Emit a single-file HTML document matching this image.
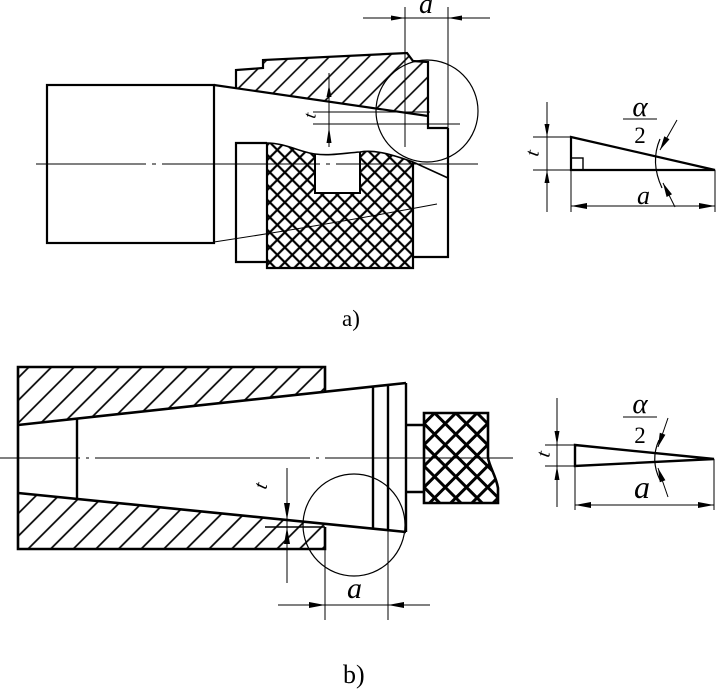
<!DOCTYPE html>
<html><head><meta charset="utf-8"><style>
html,body{margin:0;padding:0;background:#fff;}
svg{display:block;}
text{font-family:"Liberation Serif",serif;fill:#000;}
.i{font-style:italic;}
</style></head><body>
<svg width="717" height="689" viewBox="0 0 717 689" xmlns="http://www.w3.org/2000/svg">
<defs>
<pattern id="hA" patternUnits="userSpaceOnUse" width="14" height="14" patternTransform="rotate(45)">
<line x1="7" y1="0" x2="7" y2="14" stroke="#000" stroke-width="1.6"/>
</pattern>
<pattern id="hB" patternUnits="userSpaceOnUse" width="16" height="16" patternTransform="rotate(45)">
<line x1="8" y1="0" x2="8" y2="16" stroke="#000" stroke-width="1.7"/>
</pattern>
<pattern id="kA" patternUnits="userSpaceOnUse" width="10.6" height="10.6" patternTransform="rotate(45)">
<path d="M5.3,0 V10.6 M0,5.3 H10.6" stroke="#000" stroke-width="2.2" fill="none"/>
</pattern>
<pattern id="kB" patternUnits="userSpaceOnUse" width="15" height="15" patternTransform="translate(424,413) rotate(45)">
<path d="M7.5,0 V15 M0,7.5 H15" stroke="#000" stroke-width="3" fill="none"/>
</pattern>
</defs>

<!-- ================= a) ================= -->
<g fill="none" stroke="#000">
<path d="M236,88 L236,70 L263,68 L263,60 L407,53 L413,61 L428,62 L428,116 Z" fill="url(#hA)" stroke="none"/>
<path d="M236,88 L236,70 L263,68 L263,60 L407,53 L413,61 L428,62 L428,128 L448,128" stroke-width="2.2"/>
<path d="M214,85 L428,116" stroke-width="2.2"/>
<rect x="47" y="85" width="167" height="158" stroke-width="2.2"/>
<path d="M267,143 C285,143 300,152 315,154 L315,193 L360,193 L360,152 C372,150 385,152 413,162 L413,268 L267,268 Z" fill="url(#kA)" stroke="none"/>
<path d="M267,143 C285,143 300,152 315,154 C330,156 345,153 360,152 C372,150 385,152 413,162 L448,178" stroke-width="1.6"/>
<path d="M315,154 L315,193 L360,193 L360,152" stroke-width="2"/>
<path d="M267,143 L236,143 L236,262 L267,262" stroke-width="2.2"/>
<path d="M267,143 L267,268 L413,268 L413,162" stroke-width="2.2"/>
<path d="M413,257 L448,257 L448,128" stroke-width="2.2"/>
<path d="M214,242 Q320,226 437,204" stroke-width="1"/>
<circle cx="427" cy="111" r="51" stroke-width="1.2"/>
<path d="M405,7 L405,147 M448,7 L448,128 M363,18 L490,18" stroke-width="1"/>
<path d="M329,73 L329,147 M313,112 L430,112 M313,124 L460,124" stroke-width="1"/>
<path d="M36,164 H146 M152,164 H156 M162,164 H320 M326,164 H330 M336,164 H478" stroke-width="1"/>
</g>
<g fill="#000">
<polygon points="405,18 391,15.5 391,20.5"/>
<polygon points="448,18 462,15.5 462,20.5"/>
<polygon points="329,85 326.5,97 331.5,97"/>
<polygon points="329,127 326.5,143 331.5,143"/>
</g>
<text class="i" x="419" y="13" font-size="28">a</text>
<text class="i" x="0" y="0" font-size="18" transform="translate(315,119) rotate(-80)">t</text>

<!-- a) right triangle -->
<g fill="none" stroke="#000">
<path d="M571,137 L715,170 L571,170 Z" stroke-width="2.2"/>
<rect x="571" y="158" width="12" height="12" stroke-width="1.4"/>
<path d="M533,137 H571 M533,170 H571 M571,170 V212 M715,170 V212 M547,102 V212 M571,206 H715" stroke-width="1"/>
<path d="M660,139 Q650,162 662,188" stroke-width="1.2"/>
<path d="M677,120 L660,150 M675,207 L663,183 M623,119 H657" stroke-width="1"/>
</g>
<g fill="#000">
<polygon points="547,137 544.5,124 549.5,124"/>
<polygon points="547,170 544.5,183 549.5,183"/>
<polygon points="571,206 587,203 587,209"/>
<polygon points="715,206 699,203 699,209"/>
<polygon points="660,150 669.5,139.3 664.3,136.3"/>
<polygon points="663,183 672,194.3 666.6,197"/>
</g>
<text class="i" x="640" y="116" font-size="29" text-anchor="middle">α</text>
<text x="640" y="143" font-size="23" text-anchor="middle">2</text>
<text class="i" x="637" y="204" font-size="26">a</text>
<text class="i" x="0" y="0" font-size="20" transform="translate(538,157) rotate(-80)">t</text>

<text x="342" y="326" font-size="23">a)</text>

<!-- ================= b) ================= -->
<g fill="none" stroke="#000">
<path d="M18,367 L325,367 L325,392 L18,425 Z" fill="url(#hB)" stroke="none"/>
<path d="M18,493 L325,524 L325,549 L18,549 Z" fill="url(#hB)" stroke="none"/>
<path d="M325,392 L325,367 L18,367 L18,549 L325,549 L325,527" stroke-width="2.6"/>
<path d="M18,425 L406,383 M18,493 L406,532" stroke-width="2.6"/>
<path d="M77,418.6 L77,499 M406,383 L406,532 M373,386.6 L373,528.7 M388,385 L388,530" stroke-width="2.4"/>
<path d="M265,527 L325,527" stroke-width="1.6"/>
<path d="M424,413 L488,413 L488,458 C490,468 496,476 498,488 L498,503 L424,503 Z" fill="url(#kB)" stroke="none"/>
<path d="M424,413 L488,413 L488,458 C490,468 496,476 498,488 L498,503 L424,503 Z" stroke-width="2.6"/>
<path d="M406,425 L424,425 M406,492 L424,492" stroke-width="2.6"/>
<circle cx="354" cy="525" r="51" stroke-width="1.2"/>
<path d="M287,468 V583 M325,549 V620 M388,530 V620 M278,605 H430" stroke-width="1"/>
<path d="M0,458 H80 M86,458 H89 M95,458 H310 M316,458 H319 M325,458 H513" stroke-width="1"/>
</g>
<g fill="#000">
<polygon points="287,520 284,503 290,503"/>
<polygon points="287,527 284,544 290,544"/>
<polygon points="325,605 309,602 309,608"/>
<polygon points="388,605 404,602 404,608"/>
</g>
<text class="i" x="347" y="598" font-size="30">a</text>
<text class="i" x="0" y="0" font-size="20" transform="translate(266,490) rotate(-75)">t</text>

<!-- b) right -->
<g fill="none" stroke="#000">
<path d="M575,445 L714,459 L575,466 Z" stroke-width="2.4"/>
<path d="M545,445 H575 M545,466 H575 M575,466 V510 M714,459 V510 M557,398 V507 M575,505 H714" stroke-width="1"/>
<path d="M659,440 Q650,460 660,480" stroke-width="1.2"/>
<path d="M668,418 L658,447 M668,497 L658,468 M623,417 H657" stroke-width="1"/>
</g>
<g fill="#000">
<polygon points="557,445 554.5,431 559.5,431"/>
<polygon points="557,466 554.5,480 559.5,480"/>
<polygon points="575,505 591,502 591,508"/>
<polygon points="714,505 698,502 698,508"/>
<polygon points="658,447 665.4,434.8 659.8,432.8"/>
<polygon points="658,468 665.4,480.2 659.8,482.2"/>
</g>
<text class="i" x="640" y="413" font-size="29" text-anchor="middle">α</text>
<text x="640" y="443" font-size="23" text-anchor="middle">2</text>
<text class="i" x="634" y="498" font-size="32">a</text>
<text class="i" x="0" y="0" font-size="20" transform="translate(549,458) rotate(-80)">t</text>

<text x="343" y="683" font-size="26">b)</text>
</svg>
</body></html>
